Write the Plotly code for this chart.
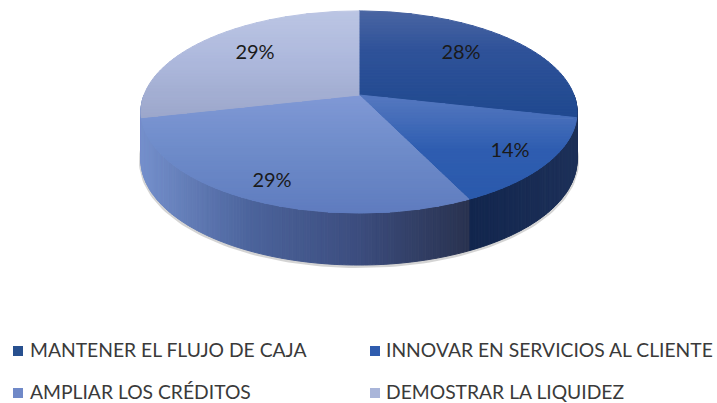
import numpy as np
import plotly.graph_objects as go

# respuestas por opcion (2:1:2:2), las etiquetas son las del grafico original
categories = ["MANTENER EL FLUJO DE CAJA", "INNOVAR EN SERVICIOS AL CLIENTE",
              "AMPLIAR LOS CRÉDITOS", "DEMOSTRAR LA LIQUIDEZ"]
counts = [2, 1, 2, 2]
pct_labels = ["28%", "14%", "29%", "29%"]
legend_colors = ["#28508f", "#2f5cae", "#7089c8", "#a9b5d9"]

# gradiente vertical de la cara superior: (y, color)
top_shades = [
    [(11, "#4a66a3"), (50, "#30539a"), (115, "#214a90")],
    [(100, "#5377bf"), (150, "#2f5eb1"), (200, "#2b5aac")],
    [(95, "#8199d6"), (150, "#6f8cca"), (215, "#5f7cbf")],
    [(11, "#bcc6e4"), (60, "#aeb9dd"), (120, "#9ca7cb")],
]
# gradiente horizontal de la pared: (x, color)
wall_shades = [
    [(469, "#12264e"), (577, "#1e3159")],
    [(469, "#12264e"), (577, "#1e3159")],
    [(141, "#7590cc"), (250, "#4c649c"), (359, "#3c4d7e"), (469, "#2a3350")],
    [(141, "#7590cc"), (250, "#4c649c")],
]

# proyeccion del disco: centro, semiejes y perspectiva
CX, CY, A, B, K = 359, 95, 215, 98.2, 0.168


def project(theta):
    u, v = np.sin(theta), -np.cos(theta)
    d = 1 - K * v
    return CX + A * u / d, CY + B * v / d


def depth(theta):
    return 47 + 5 * (-np.cos(theta))


def to_hex(c):
    return tuple(int(c[i:i + 2], 16) for i in (1, 3, 5))


def shade(stops, t):
    xs = [s[0] for s in stops]
    rgb = [np.interp(t, xs, [to_hex(s[1])[i] for s in stops]) for i in range(3)]
    return "rgb(%d,%d,%d)" % tuple(rgb)


def clip_band(pts, y0, y1):
    # recorta un poligono a la banda y0..y1
    for limit, keep in ((y0, lambda p: p[1] >= y0), (y1, lambda p: p[1] <= y1)):
        out = []
        for i, p in enumerate(pts):
            q = pts[(i + 1) % len(pts)]
            if keep(p):
                out.append(p)
            if keep(p) != keep(q):
                t = (limit - p[1]) / (q[1] - p[1])
                out.append((p[0] + t * (q[0] - p[0]), limit))
        pts = out
        if not pts:
            break
    return pts


def poly(fig, xs, ys, color):
    fig.add_trace(go.Scatter(x=list(xs) + [xs[0]], y=list(ys) + [ys[0]], mode="lines", fill="toself",
                             fillcolor=color, line=dict(color=color, width=1),
                             hoverinfo="skip", showlegend=False))


fig = go.Figure()
edges = 2 * np.pi * np.cumsum([0] + counts) / sum(counts)

# sombra suave bajo la pared
rim = np.linspace(np.pi / 2, 3 * np.pi / 2, 120)
rx, ry = project(rim)
fig.add_trace(go.Scatter(x=rx, y=ry + depth(rim) + 1, mode="lines", line=dict(color="rgba(60,60,60,0.22)", width=4),
                         hoverinfo="skip", showlegend=False))

# pared lateral
for i in [3, 0, 1, 2]:
    a0, a1 = max(edges[i], np.pi / 2), min(edges[i + 1], 3 * np.pi / 2)
    if a1 <= a0:
        continue
    steps = np.linspace(a0, a1, int((a1 - a0) * 70) + 2)
    for s0, s1 in zip(steps[:-1], steps[1:]):
        x0, y0 = project(s0)
        x1, y1 = project(s1)
        poly(fig, [x0, x1, x1, x0], [y0, y1, y1 + depth(s1), y0 + depth(s0)],
             shade(wall_shades[i], (x0 + x1) / 2))

# cara superior por bandas horizontales
for i in range(4):
    arc = np.linspace(edges[i], edges[i + 1], 80)
    ax, ay = project(arc)
    pts = [(CX, CY)] + list(zip(ax, ay))
    top = min(p[1] for p in pts)
    bottom = max(p[1] for p in pts)
    for y0 in np.arange(top, bottom, 3):
        band = clip_band(pts, y0, y0 + 3)
        if len(band) > 2:
            poly(fig, [p[0] for p in band], [p[1] for p in band], shade(top_shades[i], y0 + 1.5))

# etiquetas de porcentaje
fig.add_trace(go.Scatter(x=[461, 510, 272, 255], y=[54, 152, 182, 54], mode="text", text=pct_labels,
                         textposition="middle center", textfont=dict(family="Lato", size=20, color="#1a1a1a"),
                         hoverinfo="skip", showlegend=False))

# leyenda
marker_x = [18, 375, 18, 375]
text_x = [30, 386, 30, 386]
legend_y = [351, 351, 393, 393]
text_y = [352, 352, 394, 394]
for name, color, mx, tx, ly, ty in zip(categories, legend_colors, marker_x, text_x, legend_y, text_y):
    fig.add_trace(go.Scatter(x=[mx], y=[ly], mode="markers", marker=dict(symbol="square", size=10, color=color),
                             name=name, hoverinfo="name", showlegend=False))
    fig.add_trace(go.Scatter(x=[tx], y=[ty], mode="text", text=[name], textposition="middle right",
                             textfont=dict(family="Lato", size=19.3, color="#3a3a3a"),
                             hoverinfo="skip", showlegend=False))

fig.update_layout(
    width=717, height=403, margin=dict(l=0, r=0, t=0, b=0),
    paper_bgcolor="white", plot_bgcolor="white",
    xaxis=dict(range=[0, 717], visible=False, fixedrange=True),
    yaxis=dict(range=[403, 0], visible=False, fixedrange=True),
)
fig.write_html("out.html", config={"displayModeBar": False}, post_script="document.body.style.margin='0';")
